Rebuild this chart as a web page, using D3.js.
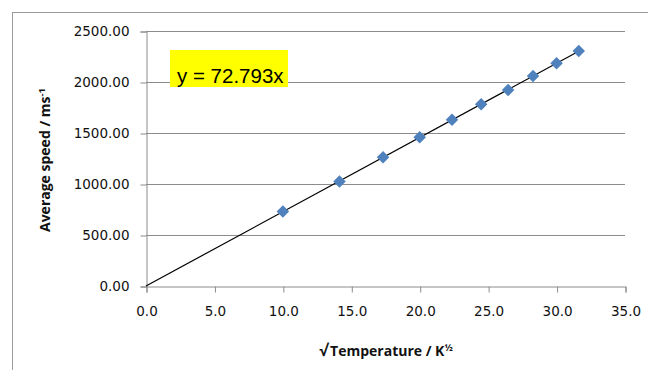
<!DOCTYPE html>
<html><head><meta charset="utf-8">
<script src="https://cdn.jsdelivr.net/npm/d3@7"></script>
<style>body{margin:0;background:#fff}svg{display:block}</style>
</head><body>
<svg id="c" width="648" height="370"></svg>
<script>
const sqrtT = [10.0, 14.14, 17.32, 20.0, 22.36, 24.49, 26.46, 28.28, 30.0, 31.62];
const speed = [731, 1024, 1262, 1459, 1629, 1782, 1922, 2059, 2183, 2303];
const slope = 72.793;
const xTicks = [0, 5, 10, 15, 20, 25, 30, 35];
const yTicks = [0, 500, 1000, 1500, 2000, 2500];

const svg = d3.select("#c");
const x = d3.scaleLinear().domain([0, 35]).range([146, 625]);
const y = d3.scaleLinear().domain([0, 2500]).range([286, 31]);
const grey = "#8c8c8c";
const tickFont = "DejaVu Sans, sans-serif";

svg.append("rect").attr("x", 12.5).attr("y", 12.5).attr("width", 700).attr("height", 400)
  .attr("fill", "none").attr("stroke", "#9a9a9a").attr("stroke-width", 1);

svg.append("g").selectAll("line").data(yTicks.filter(d => d > 0)).join("line")
  .attr("x1", x(0)).attr("x2", x(35))
  .attr("y1", d => Math.round(y(d)) + 0.5).attr("y2", d => Math.round(y(d)) + 0.5)
  .attr("stroke", grey).attr("stroke-width", 1);

const yAxis = d3.axisLeft(y).tickValues(yTicks).tickFormat(d3.format(".2f")).tickSize(6).tickPadding(11);
const gy = svg.append("g").attr("transform", `translate(${x(0)+0.5},0.5)`).call(yAxis);
gy.select(".domain").attr("stroke", grey);
gy.selectAll(".tick line").attr("stroke", grey);
gy.selectAll("text").attr("font-family", tickFont).attr("font-size", 13.5).attr("fill", "#111");

const xAxis = d3.axisBottom(x).tickValues(xTicks).tickFormat(d3.format(".1f")).tickSize(6).tickPadding(14);
const gx = svg.append("g").attr("transform", `translate(0.5,${y(0)+0.5})`).call(xAxis);
gx.select(".domain").attr("stroke", grey);
gx.selectAll(".tick line").attr("stroke", grey);
gx.selectAll("text").attr("font-family", tickFont).attr("font-size", 13.5).attr("fill", "#111");

const xmax = d3.max(sqrtT);
svg.append("line").attr("x1", x(0)).attr("y1", y(0)).attr("x2", x(xmax)).attr("y2", y(slope * xmax))
  .attr("stroke", "#000").attr("stroke-width", 1.2);

svg.append("g").selectAll("path").data(sqrtT.map((t, i) => [t, speed[i]])).join("path")
  .attr("d", d3.symbol().type(d3.symbolSquare).size(78))
  .attr("transform", d => `translate(${x(d[0])},${y(d[1])}) rotate(45)`)
  .attr("fill", "#4f81bd");

svg.append("rect").attr("x", 170).attr("y", 50).attr("width", 118).attr("height", 37).attr("fill", "#ffff00");
svg.append("text").attr("x", 177).attr("y", 83).attr("font-family", "Liberation Sans, Arial, sans-serif")
  .attr("font-size", 20.5).attr("fill", "#000").text("y = " + slope + "x");

const yt = svg.append("text").attr("transform", "translate(50,160) rotate(-90)").attr("text-anchor", "middle")
  .attr("font-family", "Open Sans, sans-serif").attr("font-weight", "bold").attr("font-size", 14).attr("fill", "#111");
yt.append("tspan").text("Average speed / ms");
yt.append("tspan").attr("dy", -5).attr("font-size", 9.5).text("-1");

const xt = svg.append("text").attr("x", 386).attr("y", 356).attr("text-anchor", "middle")
  .attr("font-family", "Open Sans, sans-serif").attr("font-weight", "bold").attr("font-size", 14).attr("fill", "#111");
xt.append("tspan").attr("font-size", 16).text("√");
xt.append("tspan").attr("dx", 2).text("Temperature / K");
xt.append("tspan").attr("dy", -5).attr("font-size", 9.5).text("½");
</script>
</body></html>
